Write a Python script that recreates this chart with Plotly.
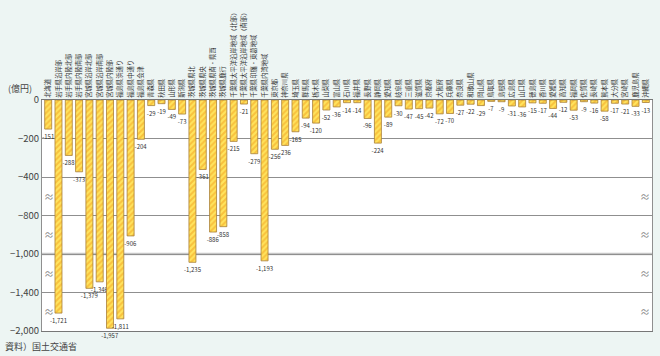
import numpy as np
import plotly.graph_objects as go

regions = ["北海道","岩手県沿岸部","岩手県内陸北部","岩手県内陸南部","宮城県沿岸北部","宮城県沿岸南部","宮城県内陸部",
           "福島県浜通り","福島県中通り","福島県会津","青森県","秋田県","山形県","新潟県",
           "茨城県県北","茨城県県央","茨城県県南・県西","茨城県鹿行",
           "千葉県太平洋沿岸地域（北部）","千葉県太平洋沿岸地域（南部）","千葉県印旛・東葛地域","千葉県内湾地域",
           "東京都","神奈川県","埼玉県","群馬県","栃木県","山梨県","富山県","石川県","福井県",
           "長野県","静岡県","愛知県","岐阜県","三重県","滋賀県","京都府","大阪府","兵庫県","奈良県","和歌山県",
           "岡山県","鳥取県","島根県","広島県","山口県","徳島県","香川県","愛媛県","高知県",
           "福岡県","佐賀県","長崎県","熊本県","大分県","宮崎県","鹿児島県","沖縄県"]

values = [-151,-1721,-288,-373,-1379,-1346,-1957,-1811,-906,-204,-29,-19,-49,-73,
          -1235,-361,-886,-858,-215,-21,-279,-1193,-256,-236,-165,-94,-120,-52,-36,-14,-14,
          -96,-224,-89,-30,-47,-45,-42,-72,-70,-27,-22,-29,-7,-9,-31,-36,-15,-17,-44,-12,
          -53,-9,-16,-58,-17,-21,-33,-13]

tick_values = [0,-200,-400,-800,-1000,-1400,-2000]
tick_labels = ["0","−200","−400","−800","−1,000","−1,400","−2,000"]

# broken-axis scale (value -> display units)
scale_v = [-2000,-1400,-1250,-1000,-800,-400,-200,0]
scale_u = [-6,-5,-4.23,-4,-3,-2,-1,0]
def to_axis(v):
    return np.interp(np.asarray(v, dtype=float), scale_v, scale_u)

y_disp = to_axis(values)
texts = [f"{v:,}" for v in values]

FONT = "Noto Sans CJK JP"
PAPER = "#edf5f3"

fig = go.Figure()
fig.add_trace(go.Bar(
    x=regions, y=y_disp, text=texts, textposition="outside", textangle=0,
    constraintext="none", cliponaxis=False,
    textfont=dict(size=6, color="#333", family=FONT),
    marker=dict(color="#ffe25a",
                line=dict(color="#a8803a", width=0.8),
                pattern=dict(shape="/", fgcolor="#f29e1c", bgcolor="#ffe45e", size=4, solidity=0.5)),
    hoverinfo="skip",
))

tick_pos = to_axis(tick_values)
fig.update_layout(
    width=660, height=356,
    margin=dict(l=42, r=8, t=100, b=25, autoexpand=False),
    paper_bgcolor=PAPER, plot_bgcolor="white",
    font=dict(family=FONT, color="#333"),
    showlegend=False, bargap=0.32,
    xaxis=dict(type="category", side="top", tickangle=-90, tickfont=dict(size=6.3, color="#333"),
               showline=True, linecolor="#777", linewidth=1, mirror=True, ticks="", showgrid=False,
               automargin=False, range=[-0.6, len(regions)-0.4]),
    yaxis=dict(range=[-6, 0], tickvals=list(tick_pos), ticktext=tick_labels,
               tickfont=dict(size=9.5, color="#444"), showgrid=True, gridcolor="#8f8f8f", gridwidth=1,
               zeroline=False, showline=True, linecolor="#8f8f8f", linewidth=1, mirror=True, ticks="",
               automargin=False),
)

# emphasised -1,000 line
fig.add_shape(type="line", xref="paper", x0=0, x1=1, yref="y", y0=float(to_axis(-1000)), y1=float(to_axis(-1000)),
              line=dict(color="#c6c6c6", width=2.5), layer="below")

# axis break marks
for u in [-2.5, -3.5, -4.5, -5.5]:
    for xp in [0, 1]:
        fig.add_annotation(xref="paper", x=xp, yref="y", y=u, text="≈", showarrow=False,
                           font=dict(size=10, color="#888"))

fig.add_annotation(xref="paper", x=-0.013, xanchor="right", yref="paper", y=1.05, yanchor="middle",
                   text="(億円)", showarrow=False, font=dict(size=9, color="#444"))
fig.add_annotation(xref="paper", x=-0.064, xanchor="left", yref="paper", y=-0.066, yanchor="middle",
                   text="資料）国土交通省", showarrow=False, font=dict(size=9, color="#444"))

fig.write_html("out.html", config={"displayModeBar": False},
               post_script="document.body.style.margin='0px';document.body.style.background='%s';" % PAPER)
